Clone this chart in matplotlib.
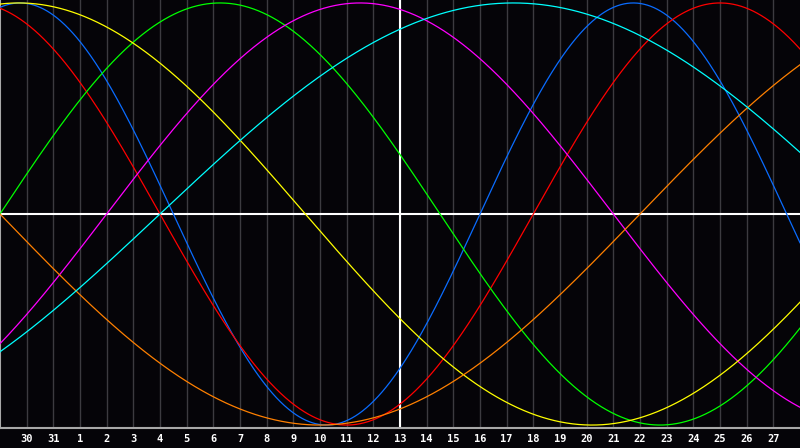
import matplotlib
matplotlib.use('Agg')
import matplotlib.pyplot as plt
import numpy as np

# day labels under the grid (first tick is the 30th of previous month)
day_labels = ['30', '31', '1', '2', '3', '4', '5', '6', '7', '8', '9', '10', '11', '12',
              '13', '14', '15', '16', '17', '18', '19', '20', '21', '22', '23', '24',
              '25', '26', '27']

# cycles: length in days, day index of a peak, colour
cycle_periods = [23, 28, 33, 38, 43, 48, 53]
cycle_peaks = [0.75, 27.0, 8.25, 13.5, 0.7, 36.0, 19.25]
cycle_colors = ['#0a6cff', '#ff0000', '#00ff00', '#ff00ff', '#ffff00', '#ff8000', '#00ffff']

n_days = 30
today_idx = 15

bg = '#050408'
fig = plt.figure(figsize=(8, 4.48), dpi=100)
fig.patch.set_facecolor(bg)
ax = fig.add_axes([0, 20 / 448, 1, 428 / 448])
ax.set_facecolor(bg)

# grid
for i in range(1, n_days):
    ax.axvline(i, color='#3c3b40', lw=1, zorder=1)

t = np.linspace(0, n_days, 1200)
for p, pk, c in zip(cycle_periods, cycle_peaks, cycle_colors):
    ax.plot(t, np.cos(2 * np.pi * (t - pk) / p), color=c, lw=0.9, zorder=3)

ax.axhline(0, color='white', lw=1.5, zorder=2)
ax.axvline(today_idx, color='white', lw=1.5, zorder=2)

ax.set_xlim(0, n_days)
ax.set_ylim(-1.014, 1.014)
ax.set_xticks([])
ax.set_yticks([])
for side in ['top', 'right']:
    ax.spines[side].set_visible(False)
for side in ['left', 'bottom']:
    ax.spines[side].set_color('#a8a8a8')
    ax.spines[side].set_linewidth(1.5)

for i, lab in enumerate(day_labels, start=1):
    ax.text(i, -10.5 / 428, lab, transform=ax.get_xaxis_transform(), ha='center', va='center',
            color='white', fontsize=7.5, fontweight='bold', family='DejaVu Sans Mono')

fig.savefig('out.png', dpi=100, facecolor=bg)
